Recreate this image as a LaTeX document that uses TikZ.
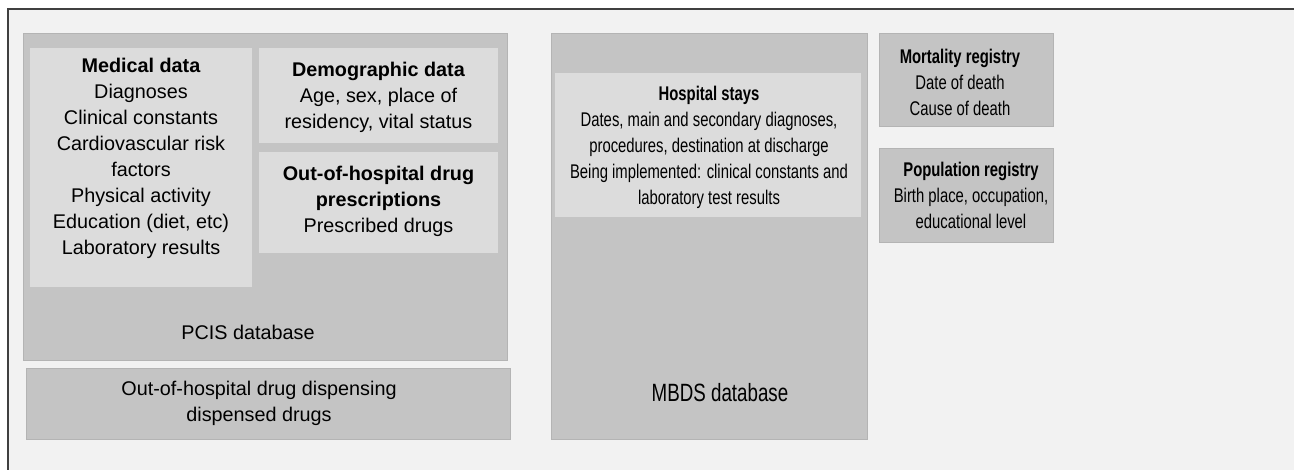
\documentclass[tikz,border=0pt]{standalone}
\usepackage{fontspec}
\setmainfont{Liberation Sans}
\newfontfamily\narrowfont{Liberation Sans}[FakeStretch=0.75]
\definecolor{bg}{HTML}{F2F2F2}
\definecolor{darkfill}{HTML}{C4C4C4}
\definecolor{lightfill}{HTML}{DCDCDC}
\definecolor{framecol}{HTML}{404040}
\begin{document}
\begin{tikzpicture}[x=1pt,y=-1pt,
  box/.style={anchor=north west, inner sep=0pt, outer sep=0pt},
  darkbox/.style={box, fill=darkfill, draw=darkfill!92!black, line width=0.8pt},
  lightbox/.style={box, fill=lightfill},
  txt/.style={align=center, inner sep=0pt, font=\fontsize{19.8}{26}\selectfont},
  ntxt/.style={align=center, inner sep=0pt, font=\fontsize{19.8}{26}\narrowfont}]
\useasboundingbox (0,0) rectangle (1294,470);
\fill[bg] (8,9) rectangle (1300,480);
\draw[framecol, line width=1.5pt] (8,480) -- (8,9) -- (1300,9);
% boxes
\node[darkbox, minimum width=484pt, minimum height=327pt] (pcis) at (23,33) {};
\node[lightbox, minimum width=222pt, minimum height=239pt] (med) at (30,48) {};
\node[lightbox, minimum width=239pt, minimum height=95pt] (demo) at (259,48) {};
\node[lightbox, minimum width=239pt, minimum height=101pt] (presc) at (259,152) {};
\node[darkbox, minimum width=484pt, minimum height=71pt] (disp) at (26,368) {};
\node[darkbox, minimum width=316pt, minimum height=406pt] (mbds) at (551,33) {};
\node[lightbox, minimum width=306pt, minimum height=144pt] (hosp) at (555,73) {};
\node[darkbox, minimum width=174pt, minimum height=93pt] (mort) at (879,33) {};
\node[darkbox, minimum width=174pt, minimum height=94pt] (popu) at (879,148) {};
% texts
\node[txt] (medT) at (141,158) {\textbf{Medical data}\\Diagnoses\\Clinical constants\\Cardiovascular risk\\factors\\Physical activity\\Education (diet, etc)\\Laboratory results};
\node[txt] (demoT) at (378.5,97) {\textbf{Demographic data}\\Age, sex, place of\\residency, vital status};
\node[txt] (prescT) at (378.5,201) {\textbf{Out-of-hospital drug}\\\textbf{prescriptions}\\Prescribed drugs};
\node[txt] (pcisT) at (248,332) {PCIS database};
\node[txt] (dispT) at (259,403) {Out-of-hospital drug dispensing\\dispensed drugs};
\node[ntxt] (hospT) at (709,147) {\textbf{Hospital stays}\\Dates, main and secondary diagnoses,\\procedures, destination at discharge\\Being implemented: clinical constants and\\laboratory test results};
\node[inner sep=0pt, font=\fontsize{25}{30}\narrowfont] (mbdsT) at (720,393) {MBDS database};
\node[ntxt] (mortT) at (960,82) {\textbf{Mortality registry}\\Date of death\\Cause of death};
\node[ntxt] (popuT) at (971,195) {\textbf{Population registry}\\Birth place, occupation,\\educational level};
\end{tikzpicture}
\end{document}
